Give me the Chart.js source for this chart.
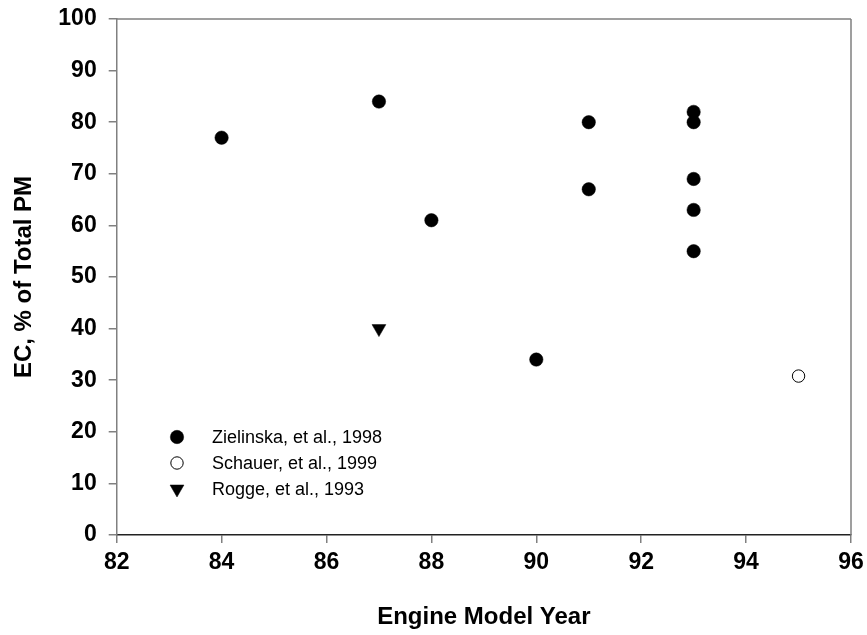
<!DOCTYPE html>
<html>
<head>
<meta charset="utf-8">
<script src="https://cdn.jsdelivr.net/npm/chart.js@4.4.1/dist/chart.umd.min.js"></script>
<style>
  html, body { margin: 0; padding: 0; background: #fff; }
  #wrap { width: 867px; height: 635px; position: relative; }
</style>
</head>
<body>
<div id="wrap"><canvas id="c" width="867" height="635"></canvas></div>
<script>
// Engine model year (x) vs elemental carbon share of total PM (y)
const zielinskaYears  = [84, 87, 88, 90, 91, 91, 93, 93, 93, 93, 93];
const zielinskaEC     = [77, 84, 61, 34, 80, 67, 82, 80, 69, 63, 55];
const schauerYears    = [95];
const schauerEC       = [30.8];
const roggeYears      = [87];
const roggeEC         = [40];

const seriesLabels = ['Zielinska, et al., 1998', 'Schauer, et al., 1999', 'Rogge, et al., 1993'];
const xTicks = [82, 84, 86, 88, 90, 92, 94, 96];
const yTicks = [0, 10, 20, 30, 40, 50, 60, 70, 80, 90, 100];

const toPoints = (xs, ys) => xs.map((x, i) => ({ x: x, y: ys[i] }));

const FONT = 'Arial, "Liberation Sans", sans-serif';

// Box frame (top and right) plus an in-plot legend
const framePlugin = {
  id: 'frameAndLegend',
  afterDraw(chart) {
    const { ctx, chartArea: a } = chart;
    ctx.save();
    ctx.strokeStyle = '#808080';
    ctx.lineWidth = 1.5;
    ctx.beginPath();
    ctx.moveTo(a.left, a.top);
    ctx.lineTo(a.right, a.top);
    ctx.moveTo(a.right, a.top);
    ctx.lineTo(a.right, a.bottom);
    ctx.stroke();

    // legend entries
    const lx = 177, tx = 212, rows = [437, 463, 489];
    ctx.font = '18px ' + FONT;
    ctx.textBaseline = 'middle';
    ctx.textAlign = 'left';
    chart.data.datasets.forEach((ds, i) => {
      ctx.fillStyle = ds.pointBackgroundColor;
      ctx.strokeStyle = ds.pointBorderColor;
      ctx.lineWidth = ds.pointBorderWidth;
      Chart.helpers.drawPoint(ctx, {
        pointStyle: ds.pointStyle,
        rotation: ds.pointRotation || 0,
        radius: ds.pointRadius,
        borderWidth: ds.pointBorderWidth
      }, lx, rows[i]);
      ctx.fillStyle = '#000';
      ctx.fillText(ds.label, tx, rows[i] + 1);
    });
    ctx.restore();
  }
};

new Chart(document.getElementById('c'), {
  type: 'scatter',
  data: {
    datasets: [
      {
        label: seriesLabels[0],
        data: toPoints(zielinskaYears, zielinskaEC),
        pointStyle: 'circle',
        pointRadius: 6.7,
        pointBackgroundColor: '#000',
        pointBorderColor: '#000',
        pointBorderWidth: 0.5
      },
      {
        label: seriesLabels[1],
        data: toPoints(schauerYears, schauerEC),
        pointStyle: 'circle',
        pointRadius: 6.2,
        pointBackgroundColor: '#fff',
        pointBorderColor: '#000',
        pointBorderWidth: 1
      },
      {
        label: seriesLabels[2],
        data: toPoints(roggeYears, roggeEC),
        pointStyle: 'triangle',
        pointRotation: 180,
        rotation: 180,
        pointRadius: 8,
        pointBackgroundColor: '#000',
        pointBorderColor: '#000',
        pointBorderWidth: 0.5
      }
    ]
  },
  options: {
    responsive: false,
    animation: false,
    layout: { autoPadding: false, padding: { left: 0, right: 16, top: 19, bottom: 0 } },
    plugins: {
      legend: { display: false },
      tooltip: { enabled: false }
    },
    scales: {
      x: {
        type: 'linear',
        min: xTicks[0],
        max: xTicks[xTicks.length - 1],
        afterBuildTicks(scale) { scale.ticks = xTicks.map(v => ({ value: v })); },
        afterFit(scale) {
          scale.height = 100;
          scale.paddingLeft = 0;
          scale.paddingRight = 0;
        },
        border: { display: true, color: '#222', width: 1.5 },
        grid: { drawOnChartArea: false, drawTicks: true, tickLength: 8, color: '#808080', lineWidth: 1.5 },
        ticks: {
          color: '#000',
          padding: 6,
          font: { family: FONT, size: 23, weight: 'bold' },
          callback: v => String(v)
        },
        title: {
          display: true,
          text: 'Engine Model Year',
          color: '#000',
          font: { family: FONT, size: 24, weight: 'bold' },
          padding: { top: 0, bottom: 3 }
        }
      },
      y: {
        type: 'linear',
        min: yTicks[0],
        max: yTicks[yTicks.length - 1],
        afterBuildTicks(scale) { scale.ticks = yTicks.map(v => ({ value: v })); },
        afterFit(scale) {
          scale.width = 116.7;
          scale.paddingTop = 0;
          scale.paddingBottom = 0;
        },
        border: { display: true, color: '#808080', width: 1.5 },
        grid: { drawOnChartArea: false, drawTicks: true, tickLength: 8, color: '#808080', lineWidth: 1.5 },
        ticks: {
          color: '#000',
          padding: 12,
          font: { family: FONT, size: 23, weight: 'bold' },
          callback: v => String(v)
        },
        title: {
          display: true,
          text: 'EC, % of Total PM',
          color: '#000',
          font: { family: FONT, size: 24, weight: 'bold' },
          padding: { top: 10, bottom: 0 }
        }
      }
    }
  },
  plugins: [framePlugin]
});
</script>
</body>
</html>
